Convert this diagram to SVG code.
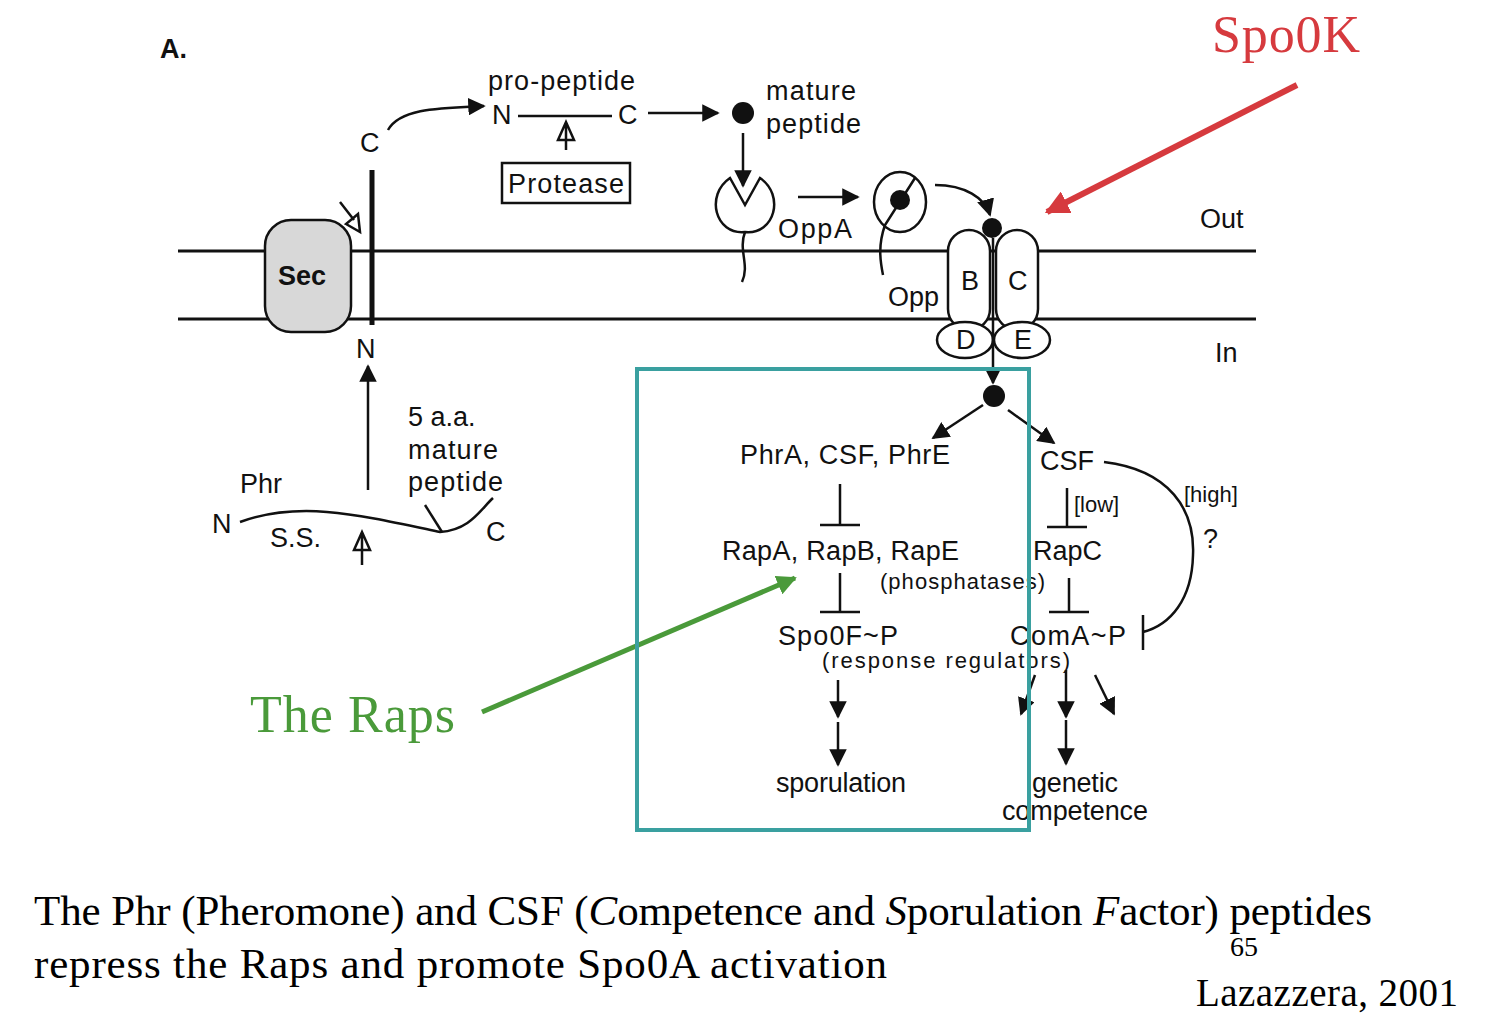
<svg xmlns="http://www.w3.org/2000/svg" width="1494" height="1024" viewBox="0 0 1494 1024">
<style>
.t{font-family:"Liberation Sans",Arial,sans-serif;font-size:27px;fill:#111}
.s{font-family:"Liberation Sans",Arial,sans-serif;font-size:22px;fill:#111}
.serif{font-family:"Liberation Serif","Times New Roman",serif;fill:#000}
.ln{stroke:#111;stroke-width:2.5;fill:none}
.th{stroke:#111;stroke-width:3;fill:none}
</style>
<defs>
<marker id="a" viewBox="0 0 10 10" refX="9" refY="5" markerWidth="7" markerHeight="7" orient="auto"><path d="M0,0L10,5L0,10z" fill="#111"/></marker>
<marker id="r" viewBox="0 0 10 10" refX="9" refY="5" markerWidth="4" markerHeight="4" orient="auto"><path d="M0,0L10,5L0,10z" fill="#d63a3e"/></marker>
<marker id="g" viewBox="0 0 10 10" refX="9" refY="5" markerWidth="4" markerHeight="4" orient="auto"><path d="M0,0L10,5L0,10z" fill="#4a9a3a"/></marker>
</defs>
<rect width="1494" height="1024" fill="#fff"/>
<text x="160" y="58" class="t" font-weight="bold" font-size="28">A.</text>
<g id="membrane">
<line x1="178" y1="251" x2="1256" y2="251" class="th"/>
<line x1="178" y1="319" x2="1256" y2="319" class="th"/>
<text x="1200" y="228" class="t">Out</text>
<text x="1215" y="362" class="t">In</text>
</g>
<g id="sec">
<rect x="265" y="220" width="86" height="112" rx="26" fill="#d8d8d8" stroke="#111" stroke-width="2.5"/>
<text x="278" y="285" class="t" font-weight="bold">Sec</text>
</g>
<g id="phr-tm">
<line x1="372" y1="170" x2="372" y2="325" stroke="#111" stroke-width="5"/>
<text x="360" y="152" class="t">C</text>
<text x="356" y="358" class="t">N</text>
<path d="M340,202 L354,220 M346,224 L360,232 L358,214 Z" class="ln"/>
</g>
<g id="propeptide">
<text x="488" y="90" class="t" textLength="147">pro-peptide</text>
<text x="492" y="124" class="t">N</text>
<line x1="518" y1="116" x2="612" y2="116" class="ln"/>
<text x="618" y="124" class="t">C</text>
<path d="M566,150 L566,122 M558,140 L566,122 L574,140 Z" class="ln"/>
<rect x="502" y="163" width="128" height="40" fill="#fff" stroke="#111" stroke-width="2.5"/>
<text x="508" y="193" class="t" textLength="116">Protease</text>
</g>
<g id="mature">
<circle cx="743" cy="113" r="11" fill="#111"/>
<text x="766" y="100" class="t" textLength="90">mature</text>
<text x="766" y="133" class="t" textLength="95">peptide</text>
</g>
<g id="oppA1">
<path d="M730,178 C705,195 715,235 745,232 C775,235 785,195 760,178 L745,205 Z" class="ln"/>
<path d="M745,232 C738,250 750,265 742,282" class="ln"/>
<text x="778" y="238" class="t" textLength="74">OppA</text>
</g>
<g id="oppA2">
<ellipse cx="900" cy="202" rx="26" ry="30" class="ln"/>
<circle cx="900" cy="200" r="10" fill="#111"/>
<path d="M915,178 L885,225 C878,245 880,260 883,275" class="ln"/>
<text x="888" y="306" class="t">Opp</text>
</g>
<g id="opp">
<rect x="948" y="230" width="42" height="100" rx="21" fill="#fff" stroke="#111" stroke-width="2.5"/>
<rect x="996" y="230" width="42" height="100" rx="21" fill="#fff" stroke="#111" stroke-width="2.5"/>
<text x="961" y="290" class="t">B</text>
<text x="1008" y="290" class="t">C</text>
<ellipse cx="965" cy="340" rx="28" ry="18" fill="#fff" stroke="#111" stroke-width="2.5"/>
<ellipse cx="1022" cy="340" rx="28" ry="18" fill="#fff" stroke="#111" stroke-width="2.5"/>
<text x="956" y="349" class="t">D</text>
<text x="1014" y="349" class="t">E</text>
<circle cx="992" cy="228" r="10" fill="#111"/>
<circle cx="994" cy="396" r="11" fill="#111"/>
</g>
<g id="phr">
<text x="240" y="493" class="t">Phr</text>
<text x="212" y="533" class="t">N</text>
<path d="M240,522 C300,500 360,515 440,532 C470,530 480,510 493,498" class="ln"/>
<path d="M425,505 L442,532" class="ln"/>
<text x="270" y="547" class="t">S.S.</text>
<text x="486" y="541" class="t">C</text>
<path d="M362,565 L362,532 M354,550 L362,532 L370,550 Z" class="ln"/>
<text x="408" y="426" class="t">5 a.a.</text>
<text x="408" y="459" class="t" textLength="90">mature</text>
<text x="408" y="491" class="t" textLength="95">peptide</text>
</g>
<g id="pathway">
<text x="740" y="464" class="t" textLength="210">PhrA, CSF, PhrE</text>
<text x="1040" y="470" class="t">CSF</text>
<text x="722" y="560" class="t" textLength="237">RapA, RapB, RapE</text>
<text x="880" y="589" class="s" textLength="165">(phosphatases)</text>
<text x="1033" y="560" class="t">RapC</text>
<text x="778" y="645" class="t" textLength="120">Spo0F~P</text>
<text x="1010" y="645" class="t" textLength="116">ComA~P</text>
<text x="822" y="668" class="s" textLength="248">(response  regulators)</text>
<text x="776" y="792" class="t" textLength="130">sporulation</text>
<text x="1032" y="792" class="t" textLength="86">genetic</text>
<text x="1002" y="820" class="t" textLength="146">competence</text>
<text x="1074" y="512" class="s">[low]</text>
<text x="1184" y="502" class="s">[high]</text>
<text x="1203" y="548" class="t">?</text>
</g>
<g id="connectors">
<path d="M388,130 C400,108 440,108 484,106" class="ln" marker-end="url(#a)"/>
<line x1="648" y1="113" x2="718" y2="113" class="ln" marker-end="url(#a)"/>
<line x1="743" y1="133" x2="743" y2="186" class="ln" marker-end="url(#a)"/>
<line x1="798" y1="197" x2="858" y2="197" class="ln" marker-end="url(#a)"/>
<path d="M935,185 C965,185 985,198 990,215" class="ln" marker-end="url(#a)"/>
<line x1="993" y1="238" x2="993" y2="383" class="ln" marker-end="url(#a)"/>
<line x1="368" y1="490" x2="368" y2="366" class="ln" marker-end="url(#a)"/>
<line x1="983" y1="405" x2="933" y2="438" class="ln" marker-end="url(#a)"/>
<line x1="1008" y1="410" x2="1054" y2="443" class="ln" marker-end="url(#a)"/>
<path d="M840,484 V525 M820,525 H860" class="ln"/>
<path d="M840,573 V612 M820,612 H860" class="ln"/>
<path d="M1067,488 V527 M1047,527 H1087" class="ln"/>
<path d="M1069,578 V612 M1049,612 H1089" class="ln"/>
<path d="M1104,462 C1170,470 1195,510 1193,555 C1192,600 1170,625 1143,632 M1143,615 V650" class="ln"/>
<line x1="838" y1="680" x2="838" y2="717" class="ln" marker-end="url(#a)"/>
<line x1="838" y1="722" x2="838" y2="765" class="ln" marker-end="url(#a)"/>
<line x1="1035" y1="675" x2="1021" y2="714" class="ln" marker-end="url(#a)"/>
<line x1="1066" y1="670" x2="1066" y2="717" class="ln" marker-end="url(#a)"/>
<line x1="1095" y1="675" x2="1114" y2="714" class="ln" marker-end="url(#a)"/>
<line x1="1066" y1="720" x2="1066" y2="764" class="ln" marker-end="url(#a)"/>
<line x1="1297" y1="85" x2="1047" y2="212" stroke="#d63a3e" stroke-width="6" marker-end="url(#r)"/>
<line x1="482" y1="712" x2="795" y2="578" stroke="#4a9a3a" stroke-width="5" marker-end="url(#g)"/>
</g>
<rect id="box" x="637" y="369" width="392" height="461" fill="none" stroke="#3aa0a0" stroke-width="4"/>
<text x="1212" y="52" class="serif" font-size="52" style="fill:#d63a3e" textLength="148">Spo0K</text>
<text x="250" y="732" class="serif" font-size="52" style="fill:#4a9a3a" textLength="205">The Raps</text>
<text x="34" y="925" class="serif" font-size="43" textLength="1338">The Phr (Pheromone) and CSF (<tspan font-style="italic">C</tspan>ompetence and <tspan font-style="italic">S</tspan>porulation <tspan font-style="italic">F</tspan>actor) peptides</text>
<text x="34" y="978" class="serif" font-size="43" textLength="853">repress the Raps and promote Spo0A activation</text>
<text x="1230" y="956" class="serif" font-size="28">65</text>
<text x="1196" y="1006" class="serif" font-size="39" textLength="262">Lazazzera, 2001</text>
</svg>
